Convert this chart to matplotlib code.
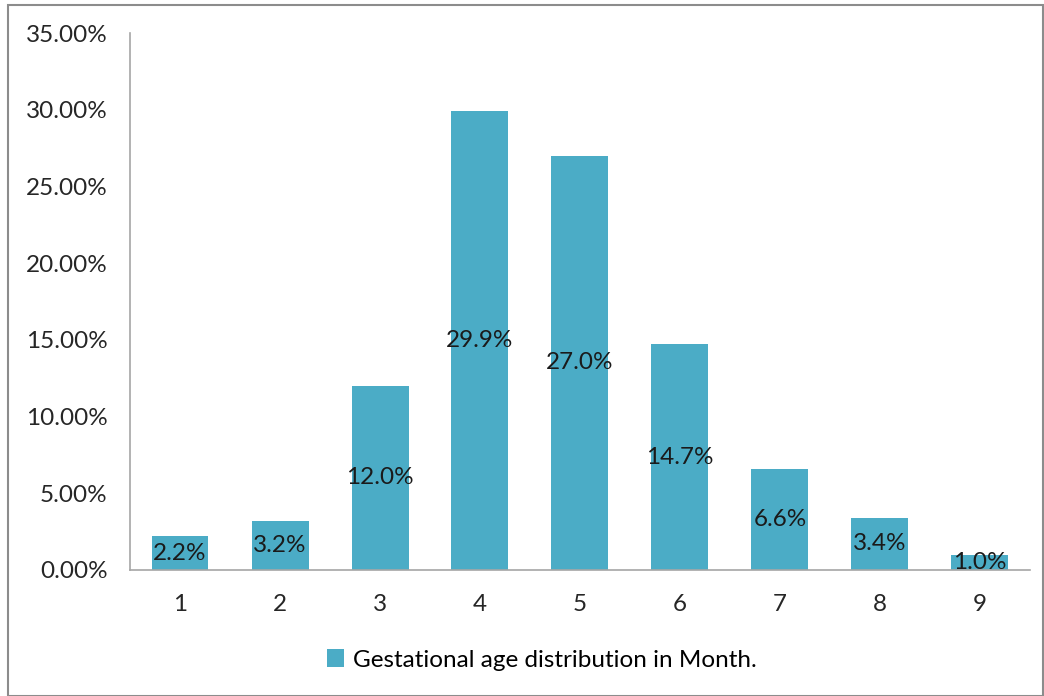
import matplotlib.pyplot as plt
from matplotlib.patches import Rectangle
from matplotlib.ticker import FuncFormatter

# gestational age (months) and share of cases
months = ['1', '2', '3', '4', '5', '6', '7', '8', '9']
share = [2.2, 3.2, 12.0, 29.9, 27.0, 14.7, 6.6, 3.4, 1.0]
series_name = 'Gestational age distribution in Month.'

plt.rcParams['font.family'] = ['Lato', 'DejaVu Sans']

fig = plt.figure(figsize=(10.44, 6.96), dpi=100)
ax = fig.add_axes([130 / 1044, 1 - 570 / 696, 900 / 1044, 537 / 696])

x = range(len(months))
bars = ax.bar(x, share, width=0.57, color='#4bacc6', label=series_name)

# value labels in the middle of each bar
for b, v in zip(bars, share):
    ax.text(b.get_x() + b.get_width() / 2, v / 2, '%.1f%%' % v,
            ha='center', va='center', fontsize=17.5, color='#1a1a1a')

ax.set_xlim(-0.5, len(months) - 0.5)
ax.set_ylim(0, 35)
ax.set_yticks(range(0, 36, 5))
ax.yaxis.set_major_formatter(FuncFormatter(lambda v, p: '%.2f%%' % v))
ax.set_xticks(list(x))
ax.set_xticklabels(months)
ax.tick_params(axis='both', length=0, labelsize=17.5, colors='#262626')
ax.tick_params(axis='y', pad=16)
ax.tick_params(axis='x', pad=17)

for side in ['top', 'right']:
    ax.spines[side].set_visible(False)
for side in ['left', 'bottom']:
    ax.spines[side].set_color('#a6a6a6')
    ax.spines[side].set_linewidth(1.2)

fig.legend(loc='center', bbox_to_anchor=(542 / 1044, 1 - 660 / 696),
           frameon=False, fontsize=17.5, handlelength=0.7, handleheight=0.7,
           handletextpad=0.4)

# thin grey frame round the chart area
fig.patches.append(Rectangle((8 / 1044, 0), 1 - 9 / 1044, 1 - 5 / 696,
                             transform=fig.transFigure, fill=False,
                             edgecolor='#8c8c8c', linewidth=1.5))

fig.savefig('out.png', dpi=100)
